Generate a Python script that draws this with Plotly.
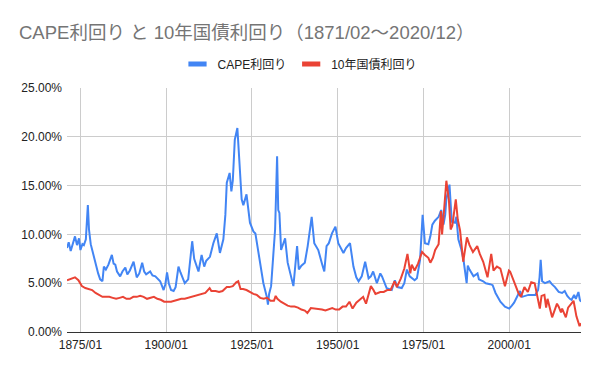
import plotly.graph_objects as go

title_text = "CAPE利回り と 10年国債利回り（1871/02〜2020/12）"
series_names = ["CAPE利回り", "10年国債利回り"]

cape_dates = [
    "1871-02", "1871-08", "1872-03", "1872-10", "1873-06", "1874-01", "1874-08", "1875-01", "1875-08", "1876-01",
    "1876-08", "1877-03", "1877-07", "1878-01", "1878-06", "1879-01", "1879-06", "1880-03", "1880-10", "1881-06",
    "1881-11", "1882-06", "1883-03", "1884-03", "1884-09", "1885-03", "1885-09", "1886-08", "1887-04", "1888-02",
    "1888-09", "1889-06", "1890-07", "1891-06", "1892-03", "1893-01", "1893-08", "1894-03", "1895-05", "1896-01",
    "1896-11", "1897-06", "1898-04", "1899-04", "1899-10", "1900-04", "1900-10", "1901-06", "1902-03", "1902-10",
    "1903-08", "1904-03", "1905-06", "1906-06", "1907-08", "1908-03", "1908-11", "1909-06", "1910-05", "1911-02",
    "1911-09", "1912-10", "1913-10", "1914-10", "1915-09", "1916-09", "1917-04", "1917-09", "1918-07", "1919-01",
    "1919-06", "1920-01", "1920-10", "1921-05", "1922-01", "1922-07", "1923-06", "1924-06", "1925-06", "1926-01",
    "1926-06", "1927-06", "1928-05", "1929-05", "1929-09", "1930-01", "1930-08", "1931-10", "1932-05", "1932-09",
    "1933-01", "1933-07", "1934-09", "1935-06", "1936-06", "1937-02", "1938-03", "1938-09", "1939-06", "1940-06",
    "1941-04", "1942-06", "1943-03", "1944-05", "1945-06", "1946-02", "1946-10", "1947-06", "1948-05", "1949-05",
    "1950-03", "1951-09", "1952-06", "1953-08", "1954-08", "1955-06", "1956-02", "1957-01", "1958-01", "1959-01",
    "1959-09", "1960-05", "1961-06", "1962-06", "1962-12", "1963-09", "1964-04", "1965-10", "1966-09", "1967-06",
    "1968-09", "1969-06", "1970-03", "1971-01", "1972-06", "1973-02", "1974-01", "1974-10", "1975-06", "1976-06",
    "1977-01", "1977-08", "1978-05", "1979-06", "1980-03", "1980-11", "1981-05", "1981-09", "1982-08", "1983-04",
    "1984-03", "1984-08", "1985-03", "1986-01", "1986-09", "1987-08", "1987-12", "1988-06", "1989-08", "1990-10",
    "1991-03", "1992-06", "1993-03", "1994-06", "1995-03", "1996-01", "1997-06", "1998-10", "2000-01", "2000-10",
    "2001-06", "2002-09", "2003-03", "2003-10", "2004-06", "2005-08", "2006-08", "2007-08", "2008-06", "2008-11",
    "2009-03", "2009-08", "2010-06", "2011-10", "2012-06", "2013-05", "2014-06", "2015-06", "2016-03", "2016-12",
    "2017-09", "2018-03", "2018-12", "2019-06", "2020-03", "2020-08", "2020-12",
]
cape_values = [
    8.6, 9.2, 8.3, 9.0, 9.8, 8.9, 9.6, 8.4, 9.0, 8.9,
    9.5, 13.0, 10.5, 9.0, 8.4, 7.6, 7.1, 6.0, 5.4, 5.2,
    6.7, 6.4, 6.9, 7.9, 7.0, 6.9, 6.2, 5.7, 6.2, 6.6,
    5.9, 6.3, 7.2, 5.6, 6.0, 7.1, 6.2, 5.9, 6.2, 5.8,
    5.7, 5.5, 5.2, 4.3, 4.9, 6.1, 5.0, 4.3, 4.2, 4.6,
    6.7, 6.1, 5.0, 5.4, 9.3, 7.5, 6.7, 6.2, 7.9, 6.7,
    7.3, 7.7, 9.1, 10.1, 8.1, 9.5, 12.0, 15.3, 16.3, 14.4,
    15.5, 19.7, 20.9, 18.0, 13.6, 13.0, 14.1, 11.2, 10.3, 10.1,
    9.1, 7.1, 5.0, 3.6, 2.8, 3.9, 4.7, 10.5, 18.0, 12.5,
    12.2, 8.4, 9.6, 7.1, 5.5, 4.7, 8.8, 6.4, 6.8, 7.1,
    8.8, 11.8, 9.1, 8.4, 7.0, 6.2, 8.8, 9.1, 10.1, 10.8,
    9.1, 8.1, 8.6, 9.1, 6.7, 5.6, 5.2, 5.7, 7.2, 5.5,
    5.7, 6.2, 5.0, 6.0, 5.7, 4.9, 4.5, 4.3, 5.3, 4.6,
    4.5, 5.0, 6.4, 5.7, 5.3, 5.5, 7.4, 12.0, 9.1, 9.0,
    9.8, 11.0, 11.4, 11.8, 12.5, 11.0, 12.0, 13.6, 15.1, 11.3,
    11.2, 11.8, 9.5, 8.5, 7.4, 5.0, 6.8, 6.4, 5.7, 6.0,
    5.4, 5.2, 5.0, 4.9, 4.8, 4.0, 3.1, 2.6, 2.4, 2.7,
    3.0, 3.9, 4.2, 3.6, 3.7, 3.8, 3.8, 3.8, 4.3, 5.6,
    7.4, 5.2, 5.0, 5.2, 4.9, 4.6, 4.1, 4.0, 4.2, 3.7,
    3.4, 3.3, 3.8, 3.4, 4.1, 3.3, 3.1,
]

bond_dates = [
    "1871-02", "1872-06", "1873-06", "1874-06", "1875-06", "1876-06", "1877-06", "1878-06", "1879-06", "1880-06",
    "1881-06", "1882-06", "1883-06", "1884-06", "1885-06", "1886-06", "1887-06", "1888-06", "1889-06", "1890-06",
    "1891-06", "1892-06", "1893-06", "1894-06", "1895-06", "1896-06", "1897-06", "1898-06", "1899-06", "1900-06",
    "1901-06", "1902-06", "1903-06", "1904-06", "1905-06", "1906-06", "1907-06", "1908-06", "1909-06", "1910-06",
    "1911-06", "1912-09", "1913-03", "1914-06", "1915-06", "1916-06", "1917-09", "1918-06", "1919-06", "1920-06",
    "1921-01", "1921-09", "1922-06", "1923-06", "1924-06", "1925-06", "1926-06", "1927-06", "1928-06", "1929-06",
    "1930-06", "1931-06", "1931-12", "1932-06", "1933-06", "1934-06", "1935-06", "1936-06", "1937-06", "1938-06",
    "1939-06", "1940-06", "1941-03", "1942-03", "1943-06", "1944-06", "1945-06", "1946-06", "1947-06", "1948-06",
    "1949-06", "1950-06", "1951-06", "1952-06", "1953-06", "1954-05", "1955-06", "1956-06", "1957-06", "1958-04",
    "1958-12", "1959-09", "1960-06", "1961-01", "1962-06", "1963-06", "1964-06", "1965-06", "1966-08", "1967-04",
    "1968-06", "1969-06", "1970-05", "1971-03", "1971-08", "1972-06", "1973-06", "1974-08", "1975-06", "1976-06",
    "1977-01", "1977-10", "1978-06", "1979-06", "1980-02", "1980-06", "1981-01", "1981-09", "1982-06", "1982-12",
    "1983-06", "1984-06", "1985-01", "1985-09", "1986-08", "1987-09", "1988-06", "1989-06", "1990-09", "1991-06",
    "1992-06", "1993-09", "1994-10", "1995-06", "1996-06", "1997-06", "1998-10", "1999-12", "2000-04", "2001-06",
    "2002-09", "2003-06", "2004-06", "2005-06", "2006-06", "2007-06", "2008-12", "2009-06", "2010-04", "2010-10",
    "2011-03", "2012-07", "2013-12", "2014-06", "2015-02", "2015-06", "2016-07", "2017-03", "2018-10", "2019-08",
    "2020-03", "2020-07", "2020-12",
]
bond_values = [
    5.3, 5.5, 5.6, 5.3, 4.7, 4.5, 4.4, 4.3, 4.0, 3.8,
    3.6, 3.6, 3.6, 3.5, 3.4, 3.5, 3.6, 3.4, 3.4, 3.6,
    3.6, 3.7, 3.6, 3.4, 3.5, 3.6, 3.4, 3.3, 3.1, 3.1,
    3.1, 3.2, 3.3, 3.4, 3.4, 3.5, 3.6, 3.7, 3.8, 3.9,
    4.0, 4.5, 4.2, 4.2, 4.1, 4.2, 4.6, 4.6, 4.7, 5.1,
    5.2, 4.4, 4.4, 4.3, 4.1, 3.9, 3.8, 3.5, 3.4, 3.5,
    3.2, 3.2, 3.7, 3.4, 3.1, 2.9, 2.7, 2.6, 2.6, 2.5,
    2.3, 2.2, 1.95, 2.45, 2.4, 2.3, 2.3, 2.2, 2.3, 2.45,
    2.3, 2.3, 2.6, 2.6, 3.1, 2.4, 3.0, 3.3, 3.6, 2.9,
    3.8, 4.7, 4.3, 3.9, 4.1, 4.1, 4.3, 4.3, 5.2, 4.6,
    5.5, 6.5, 8.0, 6.0, 6.9, 6.3, 7.0, 8.2, 7.9, 7.6,
    7.1, 7.6, 8.4, 9.0, 12.4, 10.0, 12.5, 15.5, 13.5, 10.5,
    10.9, 13.6, 11.5, 10.4, 7.2, 9.7, 8.9, 8.2, 8.8, 8.0,
    7.2, 5.6, 8.0, 6.3, 6.7, 6.5, 4.7, 6.3, 6.2, 5.2,
    4.0, 3.6, 4.6, 4.1, 5.1, 5.0, 2.4, 3.7, 3.8, 2.5,
    3.4, 1.5, 2.9, 2.6, 2.0, 2.4, 1.5, 2.5, 3.2, 1.6,
    0.9, 0.6, 0.9,
]

x_tick_vals = ["1875-01", "1900-01", "1925-01", "1950-01", "1975-01", "2000-01"]
x_tick_text = ["1875/01", "1900/01", "1925/01", "1950/01", "1975/01", "2000/01"]
y_tick_vals = [0, 5, 10, 15, 20, 25]
y_tick_text = ["0.00%", "5.00%", "10.00%", "15.00%", "20.00%", "25.00%"]

blue = "#4285F4"
red = "#EA4335"
font_family = "Liberation Sans, Arial, Noto Sans CJK JP, sans-serif"

plot_left, plot_right, plot_top, plot_bottom = 67, 581, 88, 332
plot_w = plot_right - plot_left
plot_h = plot_bottom - plot_top

fig = go.Figure()
fig.add_trace(go.Scatter(x=cape_dates, y=cape_values, mode="lines",
                         line=dict(color=blue, width=2), showlegend=False, hoverinfo="skip"))
fig.add_trace(go.Scatter(x=bond_dates, y=bond_values, mode="lines",
                         line=dict(color=red, width=2), showlegend=False, hoverinfo="skip"))
for name, color in zip(series_names, [blue, red]):
    fig.add_trace(go.Scatter(x=[None], y=[None], mode="markers", name=name,
                             marker=dict(symbol="line-ew", size=13, color=color,
                                         line=dict(color=color, width=5))))

fig.update_layout(
    width=600, height=371,
    margin=dict(l=plot_left, r=600 - plot_right, t=plot_top, b=371 - plot_bottom, autoexpand=False),
    paper_bgcolor="white", plot_bgcolor="white",
    font=dict(family=font_family, size=12, color="#222222"),
    title=dict(text=title_text, x=19 / 600, xref="container", xanchor="left",
               y=1 - 33 / 371, yref="container", yanchor="middle",
               font=dict(size=18.5, color="#757575", family=font_family)),
    legend=dict(orientation="h", x=(300 - plot_left) / plot_w, xanchor="center",
                y=1 + (plot_top - 64) / plot_h, yanchor="middle",
                font=dict(size=12, color="#222222"), itemwidth=30, bgcolor="rgba(0,0,0,0)"),
    xaxis=dict(type="date", range=["1871-02-01", "2020-12-01"],
               tickvals=x_tick_vals, ticktext=x_tick_text,
               showgrid=True, gridcolor="#cccccc", gridwidth=1,
               showline=True, linecolor="#333333", linewidth=1, ticks="",
               ticklabelstandoff=2, tickfont=dict(size=12, color="#222222")),
    yaxis=dict(range=[0, 25], tickvals=y_tick_vals, ticktext=y_tick_text,
               showgrid=True, gridcolor="#cccccc", gridwidth=1,
               zeroline=True, zerolinecolor="#333333", zerolinewidth=1,
               ticks="", ticklabelstandoff=4, tickfont=dict(size=12, color="#222222")),
)

fig.write_html("out.html", config={"displayModeBar": False},
               post_script="document.body.style.margin='0';")
